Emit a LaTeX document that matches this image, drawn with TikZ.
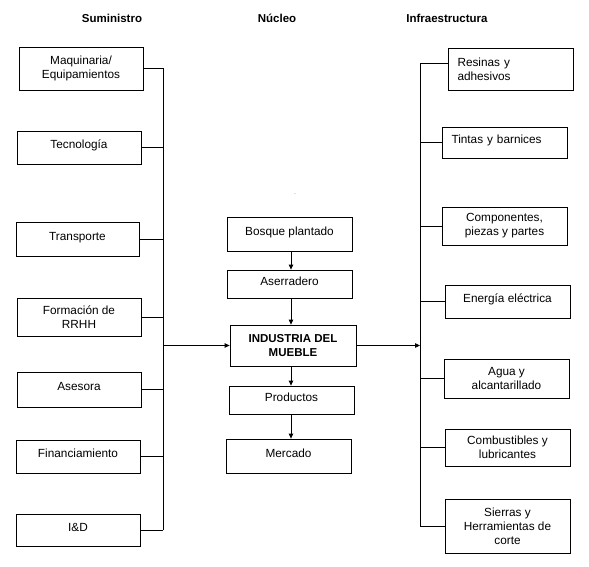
\documentclass[tikz,border=0pt]{standalone}
\usepackage{fontspec}
\setmainfont{Liberation Sans}
\usetikzlibrary{arrows.meta}
\tikzset{
  caja/.style={draw, line width=0.8pt, inner sep=0pt, align=center,
    font=\fontsize{11.8}{14}\selectfont},
  cajaizq/.style={caja, align=left, text width=#1},
  alta/.style={text depth=6pt},
  titulo/.style={font=\bfseries\fontsize{11.5}{13}\selectfont},
  flecha/.style={-{Triangle[length=5pt,width=4.5pt]}}
}
\begin{document}
\begin{tikzpicture}[x=1pt,y=-1pt,line width=0.8pt]
      \useasboundingbox (0,0) rectangle (589,567);
      \draw
        (112,18) node[titulo] (tsum){Suministro}
        (277,18) node[titulo] (tnuc){Núcleo}
        (447,18) node[titulo] (tinf){Infraestructura}
        (295,194) node[font=\tiny] (punto){.};
      % suministro
      \draw
        (81,68.5) node[caja,minimum width=124,minimum height=43] (maq){Maquinaria/\\Equipamientos}
        (79,147.5) node[caja,alta,minimum width=124,minimum height=33] (tec){Tecnología}
        (77.5,239) node[caja,alta,minimum width=123,minimum height=34] (tra){Transporte}
        (79,317) node[caja,minimum width=124,minimum height=38] (rrhh){Formación de\\RRHH}
        (79,389.5) node[caja,alta,minimum width=124,minimum height=35] (ases){Asesora}
        (78,456.5) node[caja,alta,minimum width=124,minimum height=33] (fin){Financiamiento}
        (78,530) node[caja,alta,minimum width=124,minimum height=32] (imd){I\&D};
      % nucleo
      \draw
        (289.5,234) node[caja,alta,minimum width=125,minimum height=34] (bos){Bosque plantado}
        (289.5,284) node[caja,alta,minimum width=125,minimum height=28] (ase){Aserradero}
        (293,345.5) node[caja,minimum width=126,minimum height=41,font=\bfseries\fontsize{11.5}{14}\selectfont] (ind){INDUSTRIA DEL\\MUEBLE}
        (291.5,400) node[caja,alta,minimum width=125,minimum height=28] (pro){Productos}
        (288.5,456) node[caja,alta,minimum width=125,minimum height=34] (mer){Mercado};
      % infraestructura
      \draw
        (510.5,69) node[cajaizq=106,minimum width=125,minimum height=42] (res){Resinas y\\adhesivos}
        (504.5,142.5) node[cajaizq=106,alta,minimum width=125,minimum height=31] (tin){Tintas y barnices}
        (504.5,226) node[caja,minimum width=125,minimum height=38] (com){Componentes,\\piezas y partes}
        (507.5,301.5) node[caja,alta,minimum width=125,minimum height=33] (ene){Energía eléctrica}
        (506.5,378.5) node[caja,minimum width=125,minimum height=39] (agu){Agua y\\alcantarillado}
        (507.5,447.5) node[caja,minimum width=125,minimum height=37] (cmb){Combustibles y\\lubricantes}
        (507.5,526) node[caja,minimum width=125,minimum height=54] (sie){Sierras y\\Herramientas de\\corte};
      \coordinate (busL) at (163,0);
      \coordinate (busR) at (420,0);
      \coordinate (resIn) at ([yshift=6pt]res.west);
      \begin{scope}[-]
        \draw (maq.east -| busL) to (imd.east -| busL);
        \draw (maq.east) to (maq.east -| busL);
        \draw (tec.east) to (tec.east -| busL);
        \draw (tra.east) to (tra.east -| busL);
        \draw (rrhh.east) to (rrhh.east -| busL);
        \draw (ases.east) to (ases.east -| busL);
        \draw (fin.east) to (fin.east -| busL);
        \draw (imd.east) to (imd.east -| busL);
        \draw (resIn -| busR) to (sie.west -| busR);
        \draw (resIn) to (resIn -| busR);
        \draw (tin.west) to (tin.west -| busR);
        \draw (com.west) to (com.west -| busR);
        \draw (ene.west) to (ene.west -| busR);
        \draw (agu.west) to (agu.west -| busR);
        \draw (cmb.west) to (cmb.west -| busR);
        \draw (sie.west) to (sie.west -| busR);
      \end{scope}
      \begin{scope}[flecha]
        \draw (ind.west -| busL) to (ind.west);
        \draw (ind.east) to (ind.east -| busR);
        \draw (bos.south -| 291,0) to (ase.north -| 291,0);
        \draw (ase.south -| 291,0) to (ind.north -| 291,0);
        \draw (ind.south -| 291,0) to (pro.north -| 291,0);
        \draw (pro.south -| 291,0) to (mer.north -| 291,0);
      \end{scope}
    \end{tikzpicture}
\end{document}
